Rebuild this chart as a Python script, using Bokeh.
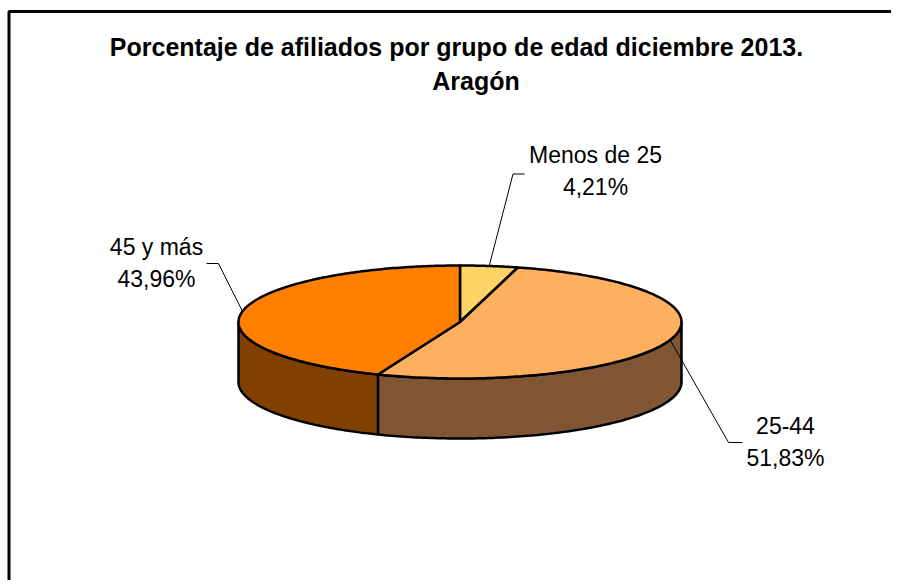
import numpy as np
from bokeh.plotting import figure
from bokeh.models import Range1d
from bokeh.core.properties import value
from bokeh.embed import file_html
from bokeh.resources import INLINE

# ---- data ----
categories = ["Menos de 25", "25-44", "45 y más"]
percentages = [4.21, 51.83, 43.96]
top_colors = ["#FFD466", "#FFAF60", "#FF8000"]
side_colors = ["#806A33", "#7F5533", "#7F4000"]
title_lines = ["Porcentaje de afiliados por grupo de edad diciembre 2013.", "Aragón"]

# ---- layout (pixel space of the page) ----
W, H = 891, 580
p = figure(width=W, height=H, output_backend="svg", toolbar_location=None,
           x_range=Range1d(0, W), y_range=Range1d(H, 0),
           min_border=0)
p.axis.visible = False
p.grid.visible = False
p.outline_line_color = None
p.background_fill_color = "white"
p.border_fill_color = "white"

# chart frame
p.line([8.5, 8.5, W + 10], [H + 10, 11, 11], line_color="black", line_width=3)

cx, cy, rx, ry, depth = 459.5, 321.5, 221.5, 56.5, 60.0

def pt(theta_deg, dy=0.0):
    t = np.radians(theta_deg)
    return cx + rx * np.sin(t), cy - ry * np.cos(t) + dy

vals = np.array(percentages)
cum = np.concatenate([[0], np.cumsum(vals)]) / vals.sum() * 360.0
starts, ends = cum[:-1], cum[1:]

# side walls (front half: 90..270 degrees, clockwise from top)
for i in range(len(vals)):
    a, b = max(starts[i], 90.0), min(ends[i], 270.0)
    if b <= a:
        continue
    th = np.linspace(a, b, 120)
    xt, yt = pt(th)
    xb, yb = pt(th[::-1], depth)
    xs = np.concatenate([xt, xb])
    ys = np.concatenate([yt, yb])
    p.patch(xs, ys, fill_color=side_colors[i], line_color="black", line_width=2.5)

# top faces
for i in range(len(vals)):
    th = np.linspace(starts[i], ends[i], 200)
    xa, ya = pt(th)
    xs = np.concatenate([[cx], xa, [cx]])
    ys = np.concatenate([[cy], ya, [cy]])
    p.patch(xs, ys, fill_color=top_colors[i], line_color="black", line_width=2.5,
            line_join="round")

# labels
font = value("Liberation Sans")
label_pos = [(595, 154), (785, 425), (156, 246)]
elbows = [[(512.5, 173.5), (524, 173.5)], [(728, 442), (742, 442)], [(218, 263), (206, 263)]]
for i, cat in enumerate(categories):
    mid = (starts[i] + ends[i]) / 2
    front = 90 < mid < 270 and 90 < starts[i] + 1 and ends[i] - 1 < 270
    sx, sy = pt(mid, depth if front else 0.0)
    xs = [sx] + [e[0] for e in elbows[i]]
    ys = [sy] + [e[1] for e in elbows[i]]
    p.line(xs, ys, line_color="black", line_width=1)
    lx, ly = label_pos[i]
    pct = f"{percentages[i]:.2f}".replace(".", ",") + "%"
    p.text([lx, lx], [ly, ly + 32], text=[cat, pct], text_font=font,
           text_font_size="23px", text_align="center", text_baseline="alphabetic",
           text_color="black")

# title
p.text([456, 475.5], [46, 80], text=title_lines, text_font=font,
       text_font_size="25px", text_font_style="bold", text_align="center",
       text_baseline="alphabetic", text_color="black")

open("out.html", "w").write(file_html(p, INLINE))
